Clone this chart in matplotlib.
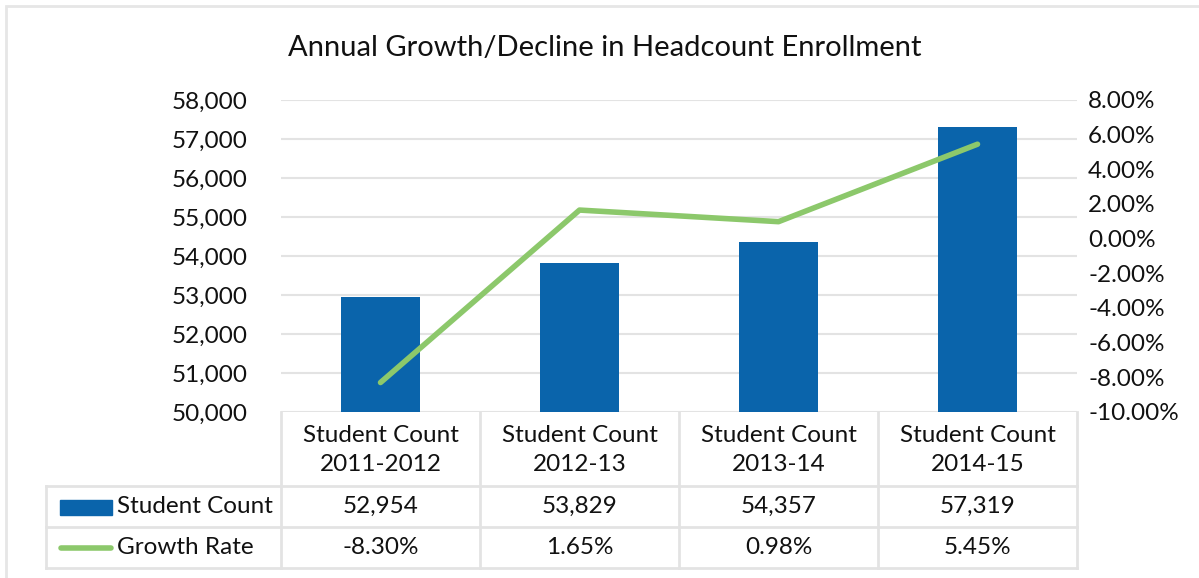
import matplotlib
matplotlib.use("Agg")
import matplotlib.pyplot as plt
import matplotlib.transforms as mtrans
from matplotlib.patches import Rectangle
from matplotlib.lines import Line2D
from matplotlib.ticker import FuncFormatter

# data
categories = ["Student Count\n2011-2012", "Student Count\n2012-13",
              "Student Count\n2013-14", "Student Count\n2014-15"]
student_count = [52954, 53829, 54357, 57319]
growth_rate = [-0.0830, 0.0165, 0.0098, 0.0545]
count_labels = ["52,954", "53,829", "54,357", "57,319"]
rate_labels = ["-8.30%", "1.65%", "0.98%", "5.45%"]

BAR = "#0A64AB"
LINE = "#8CC86B"
GRID = "#E3E3E3"
TXT = "#111111"
FS = 17.5

plt.rcParams["font.family"] = ["Lato", "DejaVu Sans"]

W, H = 1199, 578
fig = plt.figure(figsize=(W / 100, H / 100), dpi=100)

def fx(px):
    return px / W

def fy(py):
    return 1 - py / H

# outer chart border
fig.patches.append(Rectangle((fx(6), fy(590)), fx(1210 - 6), fy(6) - fy(590),
                             transform=fig.transFigure, fill=False,
                             edgecolor="#E6E6E6", linewidth=2))

ax = fig.add_axes([fx(281), fy(412), fx(1077) - fx(281), fy(100) - fy(412)])
x = list(range(len(categories)))
ax.bar(x, student_count, width=0.4, color=BAR, zorder=2)
ax.set_xlim(-0.5, len(categories) - 0.5)
ax.set_ylim(50000, 58000)
ax.set_yticks(range(50000, 58001, 1000))
ax.yaxis.set_major_formatter(FuncFormatter(lambda v, p: "{:,.0f}".format(v)))
ax.grid(axis="y", color=GRID, linewidth=1.5, zorder=0)
ax.set_xticks([])
for s in ax.spines.values():
    s.set_visible(False)
ax.tick_params(axis="y", length=0, pad=24, labelsize=FS, labelcolor=TXT)

ax2 = ax.twinx()
ax2.plot(x, growth_rate, color=LINE, linewidth=4, solid_capstyle="round",
         zorder=3)
ax2.set_ylim(-0.10, 0.08)
ax2.set_yticks([i / 100 for i in range(-10, 9, 2)])
ax2.yaxis.set_major_formatter(FuncFormatter(lambda v, p: "{:.2f}%".format(v * 100)))
for s in ax2.spines.values():
    s.set_visible(False)
ax2.tick_params(axis="y", length=0, pad=8, labelsize=FS, labelcolor=TXT)

fig.text(fx(605), fy(48), "Annual Growth/Decline in Headcount Enrollment",
         ha="center", va="center", fontsize=21, color=TXT)

# data table under the plot
tr = mtrans.blended_transform_factory(ax.transData, fig.transFigure)
left = -0.5 + (46 - 281) / 199.0
right = len(categories) - 0.5
y_top, y_head, y_r1, y_r2 = fy(412), fy(486), fy(527), fy(568)
lkw = dict(color=GRID, linewidth=2, transform=tr, clip_on=False)
for yy in (y_head, y_r1, y_r2):
    fig.add_artist(Line2D([left, right], [yy, yy], **lkw))
fig.add_artist(Line2D([left, left], [y_head, y_r2], **lkw))
for i in range(len(categories) + 1):
    fig.add_artist(Line2D([i - 0.5, i - 0.5], [y_top, y_r2], **lkw))

tkw = dict(transform=tr, ha="center", va="center", fontsize=FS, color=TXT)
for i, cat in enumerate(categories):
    fig.text(i, fy(450), cat, linespacing=1.5, **tkw)
    fig.text(i, (y_head + y_r1) / 2, count_labels[i], **tkw)
    fig.text(i, (y_r1 + y_r2) / 2, rate_labels[i], **tkw)

# legend keys inside the table
fig.patches.append(Rectangle((fx(60), fy(515)), fx(112) - fx(60), fy(500) - fy(515),
                             transform=fig.transFigure, color=BAR))
fig.add_artist(Line2D([fx(61), fx(111)], [fy(548), fy(548)], color=LINE,
                      linewidth=4, solid_capstyle="round",
                      transform=fig.transFigure))
fig.text(fx(117), (y_head + y_r1) / 2, "Student Count", ha="left", va="center",
         fontsize=FS, color=TXT)
fig.text(fx(117), (y_r1 + y_r2) / 2, "Growth Rate", ha="left", va="center",
         fontsize=FS, color=TXT)

fig.savefig("out.png", dpi=100)
